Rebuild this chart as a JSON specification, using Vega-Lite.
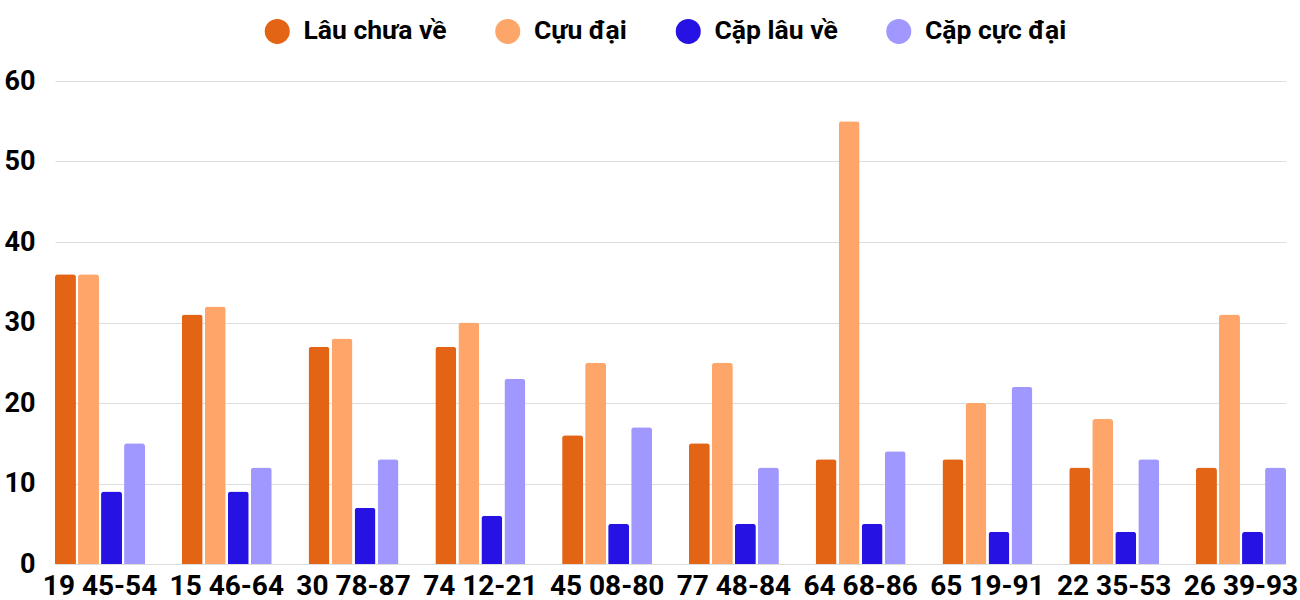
{
  "$schema": "https://vega.github.io/schema/vega-lite/v6.json",
  "width": 1231,
  "height": 483,
  "autosize": {"type": "none"},
  "padding": {"left": 55, "top": 81, "right": 14, "bottom": 36},
  "background": "white",
  "data": {
    "values": [
      {"cap": "19 45-54", "loai": "Lâu chưa về", "so": 36},
      {"cap": "19 45-54", "loai": "Cựu đại", "so": 36},
      {"cap": "19 45-54", "loai": "Cặp lâu về", "so": 9},
      {"cap": "19 45-54", "loai": "Cặp cực đại", "so": 15},
      {"cap": "15 46-64", "loai": "Lâu chưa về", "so": 31},
      {"cap": "15 46-64", "loai": "Cựu đại", "so": 32},
      {"cap": "15 46-64", "loai": "Cặp lâu về", "so": 9},
      {"cap": "15 46-64", "loai": "Cặp cực đại", "so": 12},
      {"cap": "30 78-87", "loai": "Lâu chưa về", "so": 27},
      {"cap": "30 78-87", "loai": "Cựu đại", "so": 28},
      {"cap": "30 78-87", "loai": "Cặp lâu về", "so": 7},
      {"cap": "30 78-87", "loai": "Cặp cực đại", "so": 13},
      {"cap": "74 12-21", "loai": "Lâu chưa về", "so": 27},
      {"cap": "74 12-21", "loai": "Cựu đại", "so": 30},
      {"cap": "74 12-21", "loai": "Cặp lâu về", "so": 6},
      {"cap": "74 12-21", "loai": "Cặp cực đại", "so": 23},
      {"cap": "45 08-80", "loai": "Lâu chưa về", "so": 16},
      {"cap": "45 08-80", "loai": "Cựu đại", "so": 25},
      {"cap": "45 08-80", "loai": "Cặp lâu về", "so": 5},
      {"cap": "45 08-80", "loai": "Cặp cực đại", "so": 17},
      {"cap": "77 48-84", "loai": "Lâu chưa về", "so": 15},
      {"cap": "77 48-84", "loai": "Cựu đại", "so": 25},
      {"cap": "77 48-84", "loai": "Cặp lâu về", "so": 5},
      {"cap": "77 48-84", "loai": "Cặp cực đại", "so": 12},
      {"cap": "64 68-86", "loai": "Lâu chưa về", "so": 13},
      {"cap": "64 68-86", "loai": "Cựu đại", "so": 55},
      {"cap": "64 68-86", "loai": "Cặp lâu về", "so": 5},
      {"cap": "64 68-86", "loai": "Cặp cực đại", "so": 14},
      {"cap": "65 19-91", "loai": "Lâu chưa về", "so": 13},
      {"cap": "65 19-91", "loai": "Cựu đại", "so": 20},
      {"cap": "65 19-91", "loai": "Cặp lâu về", "so": 4},
      {"cap": "65 19-91", "loai": "Cặp cực đại", "so": 22},
      {"cap": "22 35-53", "loai": "Lâu chưa về", "so": 12},
      {"cap": "22 35-53", "loai": "Cựu đại", "so": 18},
      {"cap": "22 35-53", "loai": "Cặp lâu về", "so": 4},
      {"cap": "22 35-53", "loai": "Cặp cực đại", "so": 13},
      {"cap": "26 39-93", "loai": "Lâu chưa về", "so": 12},
      {"cap": "26 39-93", "loai": "Cựu đại", "so": 31},
      {"cap": "26 39-93", "loai": "Cặp lâu về", "so": 4},
      {"cap": "26 39-93", "loai": "Cặp cực đại", "so": 12}
    ]
  },
  "mark": {"type": "bar", "cornerRadiusTopLeft": 3, "cornerRadiusTopRight": 3},
  "encoding": {
    "x": {
      "field": "cap", "type": "nominal", "sort": null, "title": null,
      "scale": {"paddingInner": 0.29, "paddingOuter": 0},
      "axis": {"labelAngle": 0, "labelFontSize": 28, "labelFont": "Roboto", "labelFontWeight": "bold",
               "labelColor": "#000000", "labelPadding": 8, "ticks": false, "domain": false}
    },
    "xOffset": {
      "field": "loai", "type": "nominal",
      "sort": ["Lâu chưa về", "Cựu đại", "Cặp lâu về", "Cặp cực đại"],
      "scale": {"paddingInner": 0.09, "paddingOuter": 0}
    },
    "y": {
      "field": "so", "type": "quantitative", "title": null,
      "scale": {"domain": [0, 60], "nice": false},
      "axis": {"values": [0, 10, 20, 30, 40, 50, 60], "labelFontSize": 27, "labelFont": "Roboto",
               "labelFontWeight": "bold", "labelColor": "#000000", "labelPadding": 20,
               "ticks": false, "domain": false, "gridColor": "#dddddd", "gridWidth": 1}
    },
    "color": {
      "field": "loai", "type": "nominal", "title": null,
      "sort": ["Lâu chưa về", "Cựu đại", "Cặp lâu về", "Cặp cực đại"],
      "scale": {
        "domain": ["Lâu chưa về", "Cựu đại", "Cặp lâu về", "Cặp cực đại"],
        "range": ["#e36414", "#fea569", "#2612e3", "#a098fe"]
      },
      "legend": {
        "orient": "none", "direction": "horizontal", "legendX": 209, "legendY": -63,
        "symbolType": "circle", "symbolSize": 625, "symbolStrokeWidth": 0, "symbolOpacity": 1,
        "labelFont": "Roboto", "labelFontSize": 26.5, "labelFontWeight": "bold", "labelColor": "#000000",
        "labelOffset": 13, "columnPadding": 47.5, "labelLimit": 300
      }
    }
  },
  "config": {"view": {"stroke": null}}
}
